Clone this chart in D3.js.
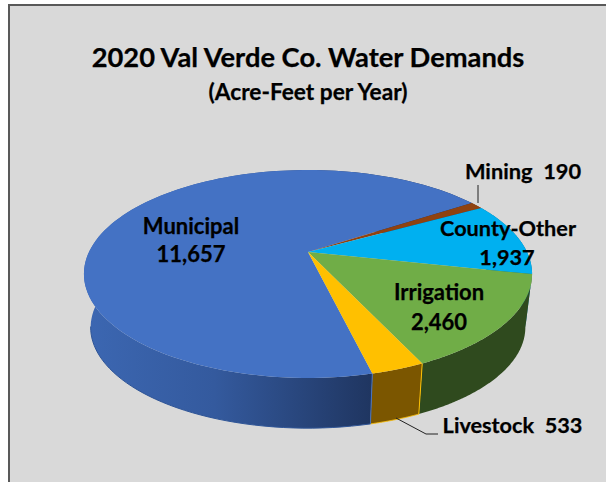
<!DOCTYPE html>
<html>
<head>
<meta charset="utf-8">
<script src="https://cdn.jsdelivr.net/npm/d3@7"></script>
<style>
  html, body { margin: 0; padding: 0; background: #fff; }
  text { font-family: Lato, "Open Sans", sans-serif; font-weight: 700; fill: #000; stroke: #000; stroke-width: 0.25px; }
</style>
</head>
<body>
<div id="chart"></div>
<script>
const categories = ['Municipal', 'Mining', 'County-Other', 'Irrigation', 'Livestock'];
const demands = [11657, 190, 1937, 2460, 533];
const topColors = ['#4472c4', '#8f4210', '#00b0f0', '#70ad47', '#ffc000'];
const sideColors = ['url(#municipalSide)', '#5c2b0a', '#006f98', '#2f4a1e', '#7b5600'];

const width = 606;
const height = 482;

const svg = d3.select('#chart').append('svg').attr('width', width).attr('height', height).style('display', 'block');

const grad = svg.append('defs').append('linearGradient').attr('id', 'municipalSide')
  .attr('gradientUnits', 'userSpaceOnUse').attr('x1', 84).attr('x2', 373).attr('y1', 0).attr('y2', 0);
grad.append('stop').attr('offset', '0%').attr('stop-color', '#3c67b2');
grad.append('stop').attr('offset', '45%').attr('stop-color', '#345a9e');
grad.append('stop').attr('offset', '100%').attr('stop-color', '#1f3560');

svg.append('rect').attr('x', 9).attr('y', 5).attr('width', width).attr('height', height)
  .attr('fill', '#d9d9d9').attr('stroke', '#595959').attr('stroke-width', 2);

// circle seen in perspective: the apex sits above the middle of the ellipse
const apexX = 308, apexY = 252, radius = 219, squash = 99.3, persp = 0.2115;
const project = (a) => {
  const u = Math.sin(a), v = -Math.cos(a), w = 1 - persp * v;
  return [apexX + radius * u / w, apexY + squash * v / w];
};
const lower = (p) => [apexX + 0.97 * (p[0] - apexX), 306 + 0.97 * (p[1] - apexY)];

const pie = d3.pie().sort(null).startAngle(166.5 * Math.PI / 180).endAngle((166.5 + 360) * Math.PI / 180);
const arcs = pie(demands);
const line = d3.line();

const rim = (d) => d3.range(0, 121).map((i) => project(d.startAngle + (d.endAngle - d.startAngle) * i / 120));

// one small quad per rim step so the wall also fills the tangent at the left and right ends
const wall = (d) => {
  const r = rim(d);
  return d3.pairs(r).map(([a, b]) => line([a, b, lower(b), lower(a)]) + 'Z').join('');
};

// side walls first, the top face paints over the hidden back part
svg.selectAll('path.side').data(arcs).enter().append('path').attr('class', 'side')
  .attr('d', wall)
  .attr('fill', (_, i) => sideColors[i]);

// lighter edges on the front walls
const stockRim = rim(arcs[4]);
const muniStart = rim(arcs[0])[0];
svg.append('path').attr('d', line([stockRim[0]].concat(stockRim.map(lower))))
  .attr('fill', 'none').attr('stroke', '#ffc000').attr('stroke-width', 1);
svg.append('path').attr('d', line([muniStart, lower(muniStart)]))
  .attr('fill', 'none').attr('stroke', '#4472c4').attr('stroke-width', 1);
svg.append('path').attr('d', line(rim(arcs[0]).slice(0, 45).map(lower)))
  .attr('fill', 'none').attr('stroke', '#2f5597').attr('stroke-width', 1);

svg.selectAll('path.top').data(arcs).enter().append('path').attr('class', 'top')
  .attr('d', (d) => line([[apexX, apexY]].concat(rim(d))) + 'Z')
  .attr('fill', (_, i) => topColors[i]);

// leader lines
svg.append('path').attr('d', line([[478, 185], [478, 203]])).attr('fill', 'none').attr('stroke', '#222').attr('stroke-width', 1);
svg.append('path').attr('d', line([[396, 418], [426, 434], [438, 434]])).attr('fill', 'none').attr('stroke', '#222').attr('stroke-width', 1);

const label = (txt, x, y, size) => svg.append('text').attr('x', x).attr('y', y).attr('text-anchor', 'middle').style('font-size', size + 'px').attr('xml:space', 'preserve').text(txt);

label('2020 Val Verde Co. Water Demands', 308, 67, 27.3);
label('(Acre-Feet per Year)', 308, 100, 22.7);
label(categories[0], 191, 234, 22);
label(d3.format(',')(demands[0]), 191, 262, 22);
label(categories[1] + '  ' + demands[1], 523, 179, 21.8);
label(categories[2], 508, 236, 21.7);
label(d3.format(',')(demands[2]), 507, 265, 21.7);
label(categories[3], 439, 300, 22);
label(d3.format(',')(demands[3]), 439, 330, 22);
label(categories[4] + '  ' + demands[4], 512.5, 433, 21.7);
</script>
</body>
</html>
